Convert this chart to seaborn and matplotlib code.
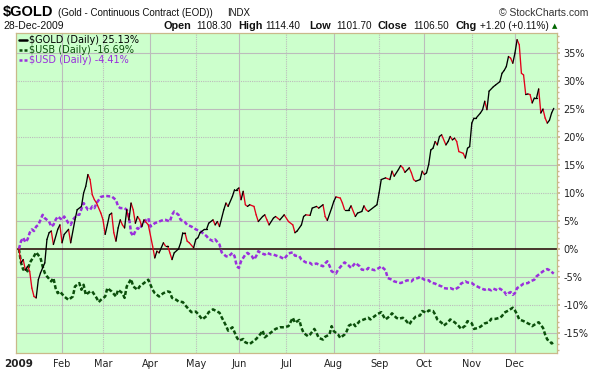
import matplotlib
matplotlib.use("Agg")
import matplotlib.pyplot as plt
import numpy as np
import pandas as pd
import seaborn as sns
from matplotlib.lines import Line2D

# 2009 exchange holidays - the chart's x axis runs on trading sessions
holidays = ["2009-01-01", "2009-01-19", "2009-02-16", "2009-04-10", "2009-05-25",
            "2009-07-03", "2009-09-07", "2009-11-26", "2009-12-25"]
month_labels = ["Feb", "Mar", "Apr", "May", "Jun", "Jul", "Aug", "Sep", "Oct", "Nov", "Dec"]
pct_ticks = [-15, -10, -5, 0, 5, 10, 15, 20, 25, 30, 35]

# % change since 2 Jan 2009
gold = [
    ("01-02", 0.0), ("01-05", -2.5), ("01-06", -1.9), ("01-07", -3.8), ("01-08", -3.1),
    ("01-09", -4.0), ("01-12", -7.0), ("01-13", -8.5), ("01-14", -8.75), ("01-15", -5.5),
    ("01-16", -4.3), ("01-20", -3.4), ("01-21", -2.5), ("01-22", 1.7), ("01-23", 2.9),
    ("01-26", 3.2), ("01-27", 0.8), ("01-29", 3.5), ("01-30", 4.3),
    ("02-02", 1.1), ("02-03", 2.6), ("02-05", 3.5), ("02-06", 1.1), ("02-10", 5.2),
    ("02-11", 7.0), ("02-13", 7.6), ("02-17", 10.0), ("02-18", 11.2), ("02-19", 13.3),
    ("02-20", 12.4), ("02-23", 9.7), ("02-24", 8.8), ("02-25", 8.2), ("02-27", 6.4),
    ("03-02", 5.2), ("03-03", 2.6), ("03-04", 4.3), ("03-05", 6.1), ("03-06", 6.4),
    ("03-09", 2.9), ("03-10", 1.4), ("03-11", 3.75), ("03-12", 5.2), ("03-13", 4.3),
    ("03-16", 3.75), ("03-17", 7.0), ("03-18", 5.2), ("03-19", 8.2), ("03-20", 7.0),
    ("03-23", 4.6), ("03-24", 5.8), ("03-25", 5.2), ("03-26", 4.0), ("03-27", 5.2),
    ("03-31", 4.3),
    ("04-02", 0.5), ("04-03", -1.6), ("04-06", -0.4), ("04-07", -0.7), ("04-09", 1.1),
    ("04-13", 0.5), ("04-14", 0.5), ("04-15", -0.7), ("04-16", -1.9), ("04-17", -0.7),
    ("04-21", 0.0), ("04-22", 1.1), ("04-23", 2.9), ("04-24", 2.9), ("04-27", 1.4),
    ("04-28", 1.1), ("04-30", 0.2),
    ("05-01", 1.7), ("05-04", 2.0), ("05-05", 2.9), ("05-07", 3.5), ("05-08", 3.5),
    ("05-11", 4.6), ("05-13", 5.2), ("05-14", 4.3), ("05-15", 4.9), ("05-18", 4.0),
    ("05-20", 7.0), ("05-21", 8.2), ("05-22", 7.6), ("05-27", 9.4), ("05-28", 10.6),
    ("05-29", 10.6),
    ("06-01", 10.9), ("06-02", 8.8), ("06-03", 10.3), ("06-04", 7.9), ("06-05", 7.6),
    ("06-08", 7.9), ("06-10", 7.6), ("06-11", 6.1), ("06-12", 4.9), ("06-16", 5.8),
    ("06-17", 6.1), ("06-18", 5.2), ("06-19", 4.3), ("06-23", 5.5), ("06-24", 5.8),
    ("06-26", 5.2), ("06-30", 6.1),
    ("07-02", 4.9), ("07-07", 4.3), ("07-08", 2.9), ("07-09", 3.2), ("07-13", 4.3),
    ("07-14", 5.8), ("07-15", 6.1), ("07-17", 6.0), ("07-20", 7.3), ("07-22", 7.6),
    ("07-23", 7.3), ("07-27", 7.9), ("07-28", 5.8), ("07-29", 5.1), ("07-31", 7.3),
    ("08-03", 8.5), ("08-04", 9.3), ("08-06", 9.1), ("08-07", 8.2), ("08-10", 7.0),
    ("08-12", 7.0), ("08-13", 7.7), ("08-17", 5.8), ("08-18", 6.4), ("08-20", 6.7),
    ("08-21", 7.7), ("08-24", 7.0), ("08-25", 6.7), ("08-28", 7.6), ("08-31", 7.9),
    ("09-01", 10.0), ("09-02", 12.4), ("09-04", 12.7), ("09-09", 12.4), ("09-10", 13.9),
    ("09-11", 13.0), ("09-15", 14.2), ("09-16", 14.9), ("09-17", 14.5), ("09-18", 13.7),
    ("09-22", 14.5), ("09-23", 13.6), ("09-24", 12.4), ("09-25", 12.1), ("09-29", 12.4),
    ("09-30", 13.9),
    ("10-01", 13.3), ("10-02", 13.6), ("10-05", 15.1), ("10-06", 17.7), ("10-07", 18.0),
    ("10-08", 19.2), ("10-09", 18.6), ("10-12", 20.1), ("10-13", 20.4), ("10-15", 18.6),
    ("10-16", 19.2), ("10-19", 20.1), ("10-20", 19.5), ("10-21", 19.8), ("10-22", 19.2),
    ("10-23", 17.4), ("10-27", 17.1), ("10-28", 16.25), ("10-29", 18.0), ("10-30", 18.3),
    ("11-02", 22.5), ("11-03", 23.4), ("11-04", 23.4), ("11-06", 24.3), ("11-09", 24.9),
    ("11-10", 26.4), ("11-11", 24.9), ("11-12", 28.2), ("11-16", 29.0), ("11-17", 29.3),
    ("11-19", 29.9), ("11-20", 31.4), ("11-23", 31.9), ("11-24", 32.6), ("11-25", 34.4),
    ("11-27", 34.1), ("11-30", 33.2),
    ("12-01", 35.0), ("12-02", 37.4), ("12-03", 36.5), ("12-04", 31.4), ("12-07", 31.1),
    ("12-08", 27.6), ("12-09", 27.7), ("12-10", 27.6), ("12-11", 26.1), ("12-14", 27.0),
    ("12-15", 27.0), ("12-16", 28.6), ("12-17", 24.3), ("12-18", 25.0), ("12-21", 23.4),
    ("12-22", 22.5), ("12-23", 23.0), ("12-24", 24.3), ("12-28", 25.13),
]

usb = [
    ("01-02", 0.0), ("01-05", -2.5), ("01-06", -3.7), ("01-07", -3.4), ("01-08", -4.0),
    ("01-09", -2.5), ("01-13", -1.3), ("01-14", -0.6), ("01-16", -1.6), ("01-20", -3.1),
    ("01-21", -4.3), ("01-22", -4.9), ("01-26", -5.8), ("01-27", -5.2), ("01-28", -7.0),
    ("01-29", -7.9), ("01-30", -7.6),
    ("02-03", -8.5), ("02-05", -9.1), ("02-09", -8.5), ("02-10", -6.7), ("02-12", -6.1),
    ("02-13", -7.3), ("02-17", -6.4), ("02-18", -8.2), ("02-20", -7.6), ("02-23", -7.6),
    ("02-25", -8.75), ("02-26", -9.5), ("02-27", -9.1),
    ("03-03", -8.5), ("03-04", -7.0), ("03-06", -7.6), ("03-10", -8.5), ("03-11", -7.3),
    ("03-13", -7.9), ("03-16", -8.75), ("03-17", -6.7), ("03-19", -5.4), ("03-20", -6.7),
    ("03-24", -7.3), ("03-25", -6.7), ("03-26", -6.4), ("03-30", -5.8), ("03-31", -5.5),
    ("04-02", -7.3), ("04-03", -7.9), ("04-07", -8.5), ("04-09", -7.9), ("04-14", -7.6),
    ("04-15", -7.7), ("04-16", -8.75), ("04-20", -9.1), ("04-21", -9.4), ("04-23", -9.5),
    ("04-24", -10.0), ("04-28", -10.9), ("04-29", -11.3),
    ("05-01", -11.2), ("05-04", -11.6), ("05-06", -12.6), ("05-08", -12.0), ("05-11", -11.3),
    ("05-13", -10.8), ("05-18", -11.4), ("05-19", -12.2), ("05-21", -13.7), ("05-22", -14.6),
    ("05-27", -14.0), ("05-28", -14.9), ("05-29", -15.8),
    ("06-01", -16.4), ("06-03", -16.1), ("06-04", -16.7), ("06-08", -17.0), ("06-09", -16.7),
    ("06-11", -16.1), ("06-15", -15.2), ("06-16", -14.6), ("06-17", -15.8), ("06-19", -15.2),
    ("06-22", -14.9), ("06-24", -14.3), ("06-26", -14.0), ("06-30", -14.0),
    ("07-02", -13.8), ("07-07", -12.3), ("07-08", -13.2), ("07-10", -12.7), ("07-13", -14.1),
    ("07-14", -15.0), ("07-16", -15.6), ("07-17", -15.3), ("07-21", -14.3), ("07-22", -15.0),
    ("07-23", -15.9), ("07-27", -16.2), ("07-28", -15.7), ("07-30", -15.3), ("07-31", -13.8),
    ("08-03", -14.7), ("08-05", -15.3), ("08-06", -15.9), ("08-10", -15.3), ("08-11", -14.7),
    ("08-12", -13.7), ("08-14", -13.3), ("08-17", -13.8), ("08-19", -12.9), ("08-21", -12.6),
    ("08-25", -12.3), ("08-26", -12.6), ("08-28", -12.0), ("08-31", -11.7),
    ("09-02", -11.3), ("09-03", -12.0), ("09-04", -12.6), ("09-09", -12.0), ("09-10", -11.5),
    ("09-14", -12.3), ("09-15", -12.5), ("09-17", -12.3), ("09-18", -12.6), ("09-22", -13.5),
    ("09-23", -12.9), ("09-25", -12.1), ("09-29", -11.9), ("09-30", -11.1),
    ("10-02", -11.4), ("10-05", -11.0), ("10-07", -11.1), ("10-08", -11.7), ("10-09", -12.6),
    ("10-13", -13.2), ("10-14", -13.7), ("10-16", -13.1), ("10-19", -12.6), ("10-21", -13.1),
    ("10-23", -13.8), ("10-26", -14.3), ("10-28", -13.7), ("10-29", -12.9),
    ("11-02", -13.3), ("11-03", -14.3), ("11-05", -14.1), ("11-06", -13.9), ("11-10", -13.3),
    ("11-12", -13.1), ("11-13", -12.5), ("11-17", -12.5), ("11-19", -12.3), ("11-20", -12.0),
    ("11-23", -11.4), ("11-25", -11.0), ("11-30", -10.5),
    ("12-01", -11.0), ("12-02", -11.7), ("12-03", -12.6), ("12-07", -12.9), ("12-08", -13.1),
    ("12-10", -13.5), ("12-11", -13.8), ("12-15", -13.3), ("12-16", -13.1), ("12-18", -14.1),
    ("12-21", -15.3), ("12-22", -16.2), ("12-23", -16.4), ("12-24", -16.9), ("12-28", -16.69),
]

usd = [
    ("01-02", 0.0), ("01-05", 1.4), ("01-06", 2.0), ("01-07", 1.2), ("01-08", 1.7),
    ("01-09", 2.9), ("01-12", 3.5), ("01-13", 3.2), ("01-14", 4.0), ("01-15", 4.3),
    ("01-16", 5.2), ("01-20", 6.1), ("01-21", 5.5), ("01-22", 5.2), ("01-23", 4.9),
    ("01-26", 4.0), ("01-27", 4.3), ("01-28", 5.2), ("01-29", 5.8),
    ("02-02", 5.2), ("02-03", 5.8), ("02-04", 5.2), ("02-05", 4.6), ("02-06", 4.3),
    ("02-09", 5.2), ("02-11", 6.1), ("02-12", 6.1), ("02-17", 8.2), ("02-18", 7.6),
    ("02-19", 7.0), ("02-20", 7.0), ("02-23", 7.6), ("02-24", 7.3), ("02-25", 8.2),
    ("02-26", 8.75), ("02-27", 9.3),
    ("03-03", 9.5), ("03-05", 9.4), ("03-06", 9.4), ("03-10", 8.75), ("03-11", 7.6),
    ("03-12", 7.3), ("03-16", 7.3), ("03-17", 7.0), ("03-18", 5.8), ("03-19", 2.9),
    ("03-20", 2.3), ("03-23", 3.2), ("03-24", 3.75), ("03-25", 3.5), ("03-26", 4.3),
    ("03-30", 5.2), ("03-31", 5.5),
    ("04-01", 4.0), ("04-02", 4.3), ("04-03", 4.6), ("04-07", 4.9), ("04-09", 5.2),
    ("04-13", 5.2), ("04-15", 4.9), ("04-16", 6.1), ("04-17", 6.7), ("04-21", 6.1),
    ("04-22", 5.2), ("04-24", 4.8), ("04-27", 4.3), ("04-29", 4.0), ("04-30", 3.75),
    ("05-01", 3.5), ("05-05", 3.2), ("05-06", 2.9), ("05-08", 2.3), ("05-11", 1.8),
    ("05-13", 1.4), ("05-14", 1.7), ("05-18", 0.8), ("05-19", -0.6), ("05-21", -1.3),
    ("05-22", -1.4), ("05-27", -0.7), ("05-28", -1.3), ("05-29", -3.1),
    ("06-01", -3.4), ("06-02", -2.2), ("06-04", -1.0), ("06-05", -0.7), ("06-09", -1.3),
    ("06-10", -1.9), ("06-11", -1.3), ("06-12", -0.4), ("06-15", -0.7), ("06-17", -1.0),
    ("06-18", -0.7), ("06-22", -1.0), ("06-23", -1.0), ("06-25", -1.3), ("06-26", -1.4),
    ("06-30", -1.8),
    ("07-02", -0.8), ("07-07", -0.6), ("07-08", -1.2), ("07-10", -1.3), ("07-13", -1.9),
    ("07-15", -2.4), ("07-17", -2.5), ("07-20", -2.8), ("07-22", -2.6), ("07-23", -2.8),
    ("07-27", -3.1), ("07-28", -2.6), ("07-29", -2.2), ("07-30", -3.0), ("07-31", -4.0),
    ("08-04", -4.4), ("08-05", -3.7), ("08-07", -2.8), ("08-10", -2.4), ("08-12", -3.0),
    ("08-13", -3.4), ("08-17", -2.5), ("08-19", -3.1), ("08-20", -3.7), ("08-24", -3.8),
    ("08-25", -3.4), ("08-27", -3.7), ("08-28", -3.8),
    ("09-01", -3.4), ("09-02", -3.1), ("09-04", -3.8), ("09-08", -5.2), ("09-10", -5.5),
    ("09-11", -5.8), ("09-15", -6.0), ("09-16", -6.1), ("09-18", -5.8), ("09-21", -5.6),
    ("09-23", -5.8), ("09-24", -5.4), ("09-28", -5.2), ("09-29", -5.0),
    ("10-01", -5.5), ("10-05", -5.6), ("10-06", -6.0), ("10-08", -6.2), ("10-09", -6.4),
    ("10-13", -6.7), ("10-14", -7.0), ("10-16", -7.1), ("10-19", -7.0), ("10-21", -7.3),
    ("10-23", -6.8), ("10-26", -6.2), ("10-28", -5.8), ("10-29", -6.0),
    ("11-02", -6.1), ("11-03", -6.4), ("11-05", -6.8), ("11-06", -7.0), ("11-10", -7.3),
    ("11-11", -7.1), ("11-13", -7.4), ("11-16", -7.1), ("11-18", -7.4), ("11-19", -7.1),
    ("11-23", -7.6), ("11-24", -8.2), ("11-25", -7.9), ("11-27", -7.7), ("11-30", -8.2),
    ("12-01", -7.9), ("12-02", -7.0), ("12-04", -6.5), ("12-07", -6.2), ("12-09", -6.1),
    ("12-10", -5.8), ("12-14", -5.5), ("12-15", -4.9), ("12-17", -4.3), ("12-18", -4.0),
    ("12-22", -3.6), ("12-23", -3.8), ("12-24", -4.1), ("12-28", -4.41),
]

sessions = pd.bdate_range("2009-01-02", "2009-12-28", freq="C", holidays=holidays)


def to_frame(points):
    df = pd.DataFrame(points, columns=["day", "pct"])
    df["session"] = sessions.searchsorted(pd.to_datetime("2009-" + df["day"]))
    return df


gold_df = to_frame(gold)
usb_df = to_frame(usb)
usd_df = to_frame(usd)

# gold is drawn black on up days and red on down days: one 2-point piece per step
rows = []
for i in range(len(gold_df) - 1):
    a, b = gold_df.iloc[i], gold_df.iloc[i + 1]
    d = "down" if b.pct < a.pct else "up"
    rows.append({"seg": i, "session": a.session, "pct": a.pct, "dir": d})
    rows.append({"seg": i, "session": b.session, "pct": b.pct, "dir": d})
gold_segs = pd.DataFrame(rows)

month_pos = [int(np.argmax(sessions.month == m)) for m in range(2, 13)]

sns.set_theme(style="white")
plt.rcParams["font.family"] = ["DejaVu Sans"]

W, H = 600, 374
fig = plt.figure(figsize=(6, 3.74), dpi=100)
fig.patch.set_facecolor("white")


def fx(x):
    return x / W


def fy(y):
    return 1 - y / H


ax = fig.add_axes([fx(16), fy(353), (557 - 16) / W, (353 - 33) / H])
ax.set_facecolor("#ccffcc")

grid_c = "#bcbcbc"
for k, p in enumerate(month_pos):
    ax.axvline(p, color=grid_c, lw=0.8, ls="-" if k % 2 == 0 else (0, (1, 1)), zorder=0)
for v in pct_ticks:
    if v == 0:
        continue
    ax.axhline(v, color=grid_c, lw=0.8, ls="-" if v % 10 else (0, (1, 1)), zorder=0)
ax.axhline(0, color="#220000", lw=1.1, zorder=1)

green = "#0b4f0b"
purple = "#9a30dc"
sns.lineplot(data=usb_df, x="session", y="pct", color=green, lw=1.8,
             linestyle=(0, (1.6, 0.9)), ax=ax, zorder=2)
sns.lineplot(data=usd_df, x="session", y="pct", color=purple, lw=1.8,
             linestyle=(0, (1.6, 0.9)), ax=ax, zorder=2)
sns.lineplot(data=gold_segs, x="session", y="pct", hue="dir", units="seg", estimator=None,
             palette={"up": "black", "down": "#e3001b"}, lw=0.95, legend=False,
             ax=ax, zorder=3)

ax.set_xlim(-1.35, 249.5)
ax.set_ylim(-18.6, 38.6)
ax.set_xlabel("")
ax.set_ylabel("")

ax.set_xticks([0] + month_pos)
ax.set_xticklabels(["2009"] + month_labels, fontsize=7, color="#222222")
ax.get_xticklabels()[0].set_fontweight("bold")
ax.get_xticklabels()[0].set_fontsize(7.5)
ax.yaxis.tick_right()
ax.set_yticks(pct_ticks)
ax.set_yticklabels([f"{v}%" for v in pct_ticks], fontsize=7, color="#222222")
ax.set_yticks(range(-18, 39), minor=True)
border = "#c9b98a"
ax.tick_params(axis="x", length=2, color=border, pad=2)
ax.tick_params(axis="y", which="major", length=2.5, color=border, pad=2.2, right=True)
ax.tick_params(axis="y", which="minor", length=1.2, color=border, right=True)
for s in ax.spines.values():
    s.set_color(border)
    s.set_linewidth(0.9)

# in-plot legend
leg_rows = [("$GOLD (Daily) 25.13%", "black", "-", 40),
            ("$USB (Daily) -16.69%", green, (0, (1.2, 0.8)), 50),
            ("$USD (Daily) -4.41%", purple, (0, (1.2, 0.8)), 60)]
for label, c, ls, yy in leg_rows:
    fig.add_artist(Line2D([fx(19), fx(27)], [fy(yy), fy(yy)], color=c, lw=1.8, ls=ls))
    fig.text(fx(29), fy(yy), label, color=c, fontsize=7, va="center")

# header
fig.text(fx(3), fy(12), "$GOLD", fontsize=10.5, fontweight="bold", family="Liberation Sans",
         va="center", color="black")
fig.text(fx(58), fy(13), "(Gold - Continuous Contract (EOD))", fontsize=7,
         family="Liberation Sans", va="center", color="#111111")
fig.text(fx(227), fy(13), "INDX", fontsize=7, family="Liberation Sans", va="center",
         color="#111111")
fig.text(fx(588), fy(13), "© StockCharts.com", fontsize=7.5, family="Liberation Sans",
         va="center", ha="right", color="#333333")
fig.text(fx(3), fy(26), "28-Dec-2009", fontsize=7.5, family="Liberation Sans",
         va="center", color="#111111")
header2 = [("Open", 163, True), ("1108.30", 196, False), ("High", 238, True),
           ("1114.40", 265, False), ("Low", 309, True), ("1101.70", 336, False),
           ("Close", 378, True), ("1106.50", 413, False), ("Chg", 456, True),
           ("+1.20 (+0.11%)", 480, False)]
for txt, xx, bold in header2:
    fig.text(fx(xx), fy(26), txt, fontsize=7.8 if bold else 7.2, family="Liberation Sans",
             fontweight="bold" if bold else "normal", va="center", color="#111111")
fig.text(fx(552), fy(26.5), "▲", fontsize=5, va="center", color="#006600")

fig.savefig("out.png", dpi=100)
